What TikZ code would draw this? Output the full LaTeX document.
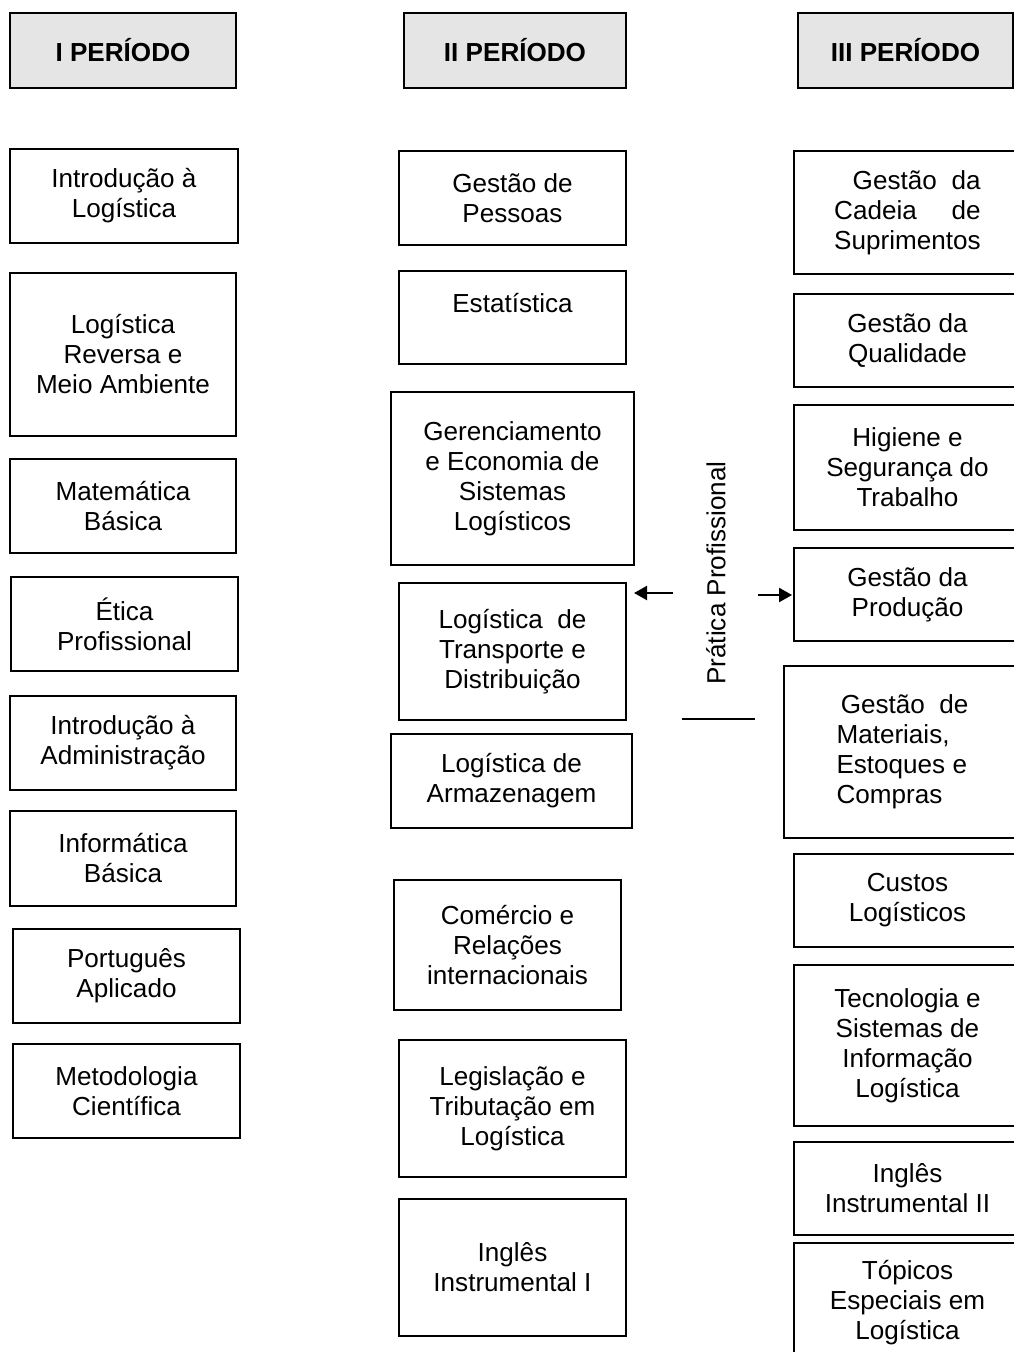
\documentclass[tikz,border=0pt]{standalone}
\usepackage{fontspec}
\setmainfont{Liberation Sans}
\usetikzlibrary{arrows.meta}
\newcommand\bx[7][]{\node[box,#1,minimum width={(#5-#3)*0.46pt},minimum height={(#6-#4)*0.46pt}] (#2) at ({(#3+#5)/2},{(#4+#6)/2}) {#7};}
\begin{document}
\begin{tikzpicture}[x=0.46pt,y=-0.46pt,
  box/.style={draw=black, line width=0.9pt, inner sep=0pt, outer sep=0pt, align=center,
    font=\fontsize{12}{13.8}\selectfont, text=black},
  head/.style={fill=black!10, font=\bfseries\fontsize{12}{13.8}\selectfont},
  arr/.style={line width=0.9pt, -{Triangle[length=6pt,width=6.5pt]}},
  plain/.style={line width=0.9pt}]
\fill[white] (0,0) rectangle (1014,1352);
\useasboundingbox (0,0) rectangle (1014,1352);
\clip (0,0) rectangle (1014,1352);
% headers
\bx[head]{h1}{10}{13}{236}{88}{I PERÍODO}
\bx[head]{h2}{404}{13}{626}{88}{II PERÍODO}
\bx[head]{h3}{798}{13}{1013}{88}{III PERÍODO}
% column 1
\bx{c1a}{10}{149}{238}{243}{Introdução à\\Logística}
\bx{c1b}{10}{273}{236}{436}{Logística\\Reversa e\\Meio Ambiente}
\bx{c1c}{10}{459}{236}{553}{Matemática\\Básica}
\bx{c1d}{11}{577}{238}{671}{Ética\\Profissional}
\bx{c1e}{10}{696}{236}{790}{Introdução à\\Administração}
\bx{c1f}{10}{811}{236}{906}{Informática\\Básica}
\bx{c1g}{13}{929}{240}{1023}{Português\\Aplicado}
\bx{c1h}{13}{1044}{240}{1138}{Metodologia\\Científica}
% column 2
\bx{c2a}{399}{151}{626}{245}{Gestão de\\Pessoas}
\bx{c2b}{399}{271}{626}{364}{Estatística\\~}
\bx{c2c}{391}{392}{634}{565}{Gerenciamento\\e Economia de\\Sistemas\\Logísticos}
\bx{c2d}{399}{583}{626}{720}{Logística\ \ de\\Transporte e\\Distribuição}
\bx{c2e}{391}{734}{632}{828}{Logística de\\Armazenagem}
\bx{c2f}{394}{880}{621}{1010}{Comércio e\\Relações\\internacionais}
\bx{c2g}{399}{1040}{626}{1177}{Legislação e\\Tributação em\\Logística}
\bx{c2h}{399}{1199}{626}{1336}{Inglês\\Instrumental I}
% column 3
\bx[align=left, text width=67.4pt]{c3a}{794}{151}{1021}{274}{\hspace*{8.5pt}Gestão\hfill da\\Cadeia\hfill de\\Suprimentos}
\bx{c3b}{794}{294}{1021}{387}{Gestão da\\Qualidade}
\bx{c3c}{794}{405}{1021}{530}{Higiene e\\Segurança do\\Trabalho}
\bx{c3d}{794}{548}{1021}{641}{Gestão da\\Produção}
\bx[align=left]{c3e}{784}{666}{1021}{838}{\hspace*{2pt}Gestão\ \ de\\Materiais,\\Estoques e\\Compras}
\bx{c3f}{794}{854}{1021}{947}{Custos\\Logísticos}
\bx{c3g}{794}{965}{1021}{1126}{Tecnologia e\\Sistemas de\\Informação\\Logística}
\bx{c3h}{794}{1142}{1021}{1235}{Inglês\\Instrumental II}
\bx{c3i}{794}{1243}{1021}{1362}{Tópicos\\Especiais em\\Logística}
% middle
\node[rotate=90, inner sep=0pt, font=\fontsize{12}{13.8}\selectfont] (pp) at (716,573) {Prática Profissional};
\coordinate (la) at (673,593);
\coordinate (ra) at (758,595);
\draw[arr, shorten >=3.7pt] (la) -- (la -| c2d.east);
\draw[arr, shorten >=0.9pt] (ra) -- (ra -| c3d.west);
\coordinate (l1) at (682,719);
\coordinate (l2) at (755,719);
\draw[plain] (l1) -- (l2);
\end{tikzpicture}
\end{document}
